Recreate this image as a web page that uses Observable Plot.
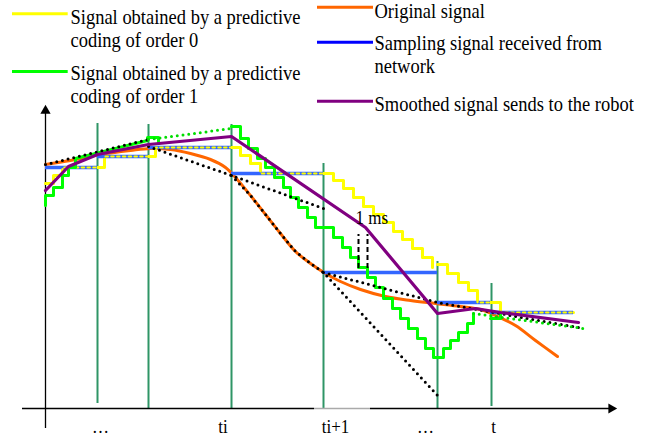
<!DOCTYPE html>
<html><head><meta charset="utf-8">
<script src="https://cdn.jsdelivr.net/npm/d3@7"></script>
<script src="https://cdn.jsdelivr.net/npm/@observablehq/plot@0.6"></script>
<style>html,body{margin:0;padding:0;background:#fff;} #chart svg{display:block;}</style>
</head><body><div id="chart"></div>
<script>
// ---- data (time t, amplitude v) ----
const sampleTimes = [52, 103, 186, 278, 392, 446];
const sampleTop = [285, 284, 284, 245, 147, 125];
const sampleBottom = [5, 0, 0, 0, 0, 2];

const originalT = [0,25,55,85,105,125,145,165,180,190,205,220,235,250,265,280,295,315,340,365,390,415,435,450,470,490,512];
const originalV = [244,248,254,258,260,259,255,249,241,231,213,194,175,157,145,135,127,119,112,108,105,102,99,93,83,68,52];

const sampledFrom = [0, 52, 103, 186, 278, 392, 445];
const sampledTo   = [52, 103, 186, 278, 392, 445, 528];
const sampledV    = [241, 252, 261, 235, 136, 106, 96];

const order0aT = [0,8,17,59,110,195,205,215,288,298,308,318,328,338,348,357,367,377,387];
const order0aV = [225,233,241,252,261,253,245,235,228,220,211,202,194,186,177,169,160,151,141];
const order0bT = [392,402,413,423,432,455,528];
const order0bV = [144,135,126,118,106,96,96];

const order1aT = [0,0,8,8,17,17,23,23,30,30,102,102,113,113];
const order1aV = [203,213,213,221,221,233,233,241,241,250,268,271,271,265];
const order1bT = [186,195,203,212,220,229,238,245,253,262,270,288,297,305,313,322,330,338,347,355,363,372,380,388,398,405,413,422,428];
const order1bV = [282,270,260,250,241,231,221,211,201,191,181,171,161,151,141,131,121,110,100,90,80,70,60,51,60,68,76,85,95];
const order1cT = [445,455,455];
const order1cV = [90,90,95];

const smoothedT = [0,23,52,103,186,320,392,430,455,533];
const smoothedV = [218,242,254,264,272,181,95,100,96,86];

const tangentPiece = [0,0, 1,1,1, 2,2,2,2,2,2,2,2, 3,3,3];
const tangentT = [0,103, 103,186,278, 186,205,220,235,250,265,278,392, 278,392,538];
const tangentV = [244,269, 262,233,200, 233,213,194,175,157,145,136,13, 136,106,80];

const slopePiece = [0,0, 1,1];
const slopeT = [103,186, 428,538];
const slopeV = [269,280, 95,80];

const delayT = [313, 322];
const delayFrom = [140, 140];
const delayTo = [174, 174];
const delayLabel = ["1 ms"];

const tickLabels = ["…", "ti", "ti+1", "…", "t"];
const tickT = [55, 177.5, 290, 380, 448];

const legendLabels = [
  "Signal obtained by a predictive\ncoding of order 0",
  "Signal obtained by a predictive\ncoding of order 1",
  "Original signal",
  "Sampling signal received from\nnetwork",
  "Smoothed signal sends to the robot"
];
const legendColors = ["#ffff00", "#00ff00", "#ff6600", "#0000ff", "#800080"];

// ---- layout (code, not data) ----
const legendLayout = [
  {x1: -33, x2: 22.7, lineV: 394.7, textT: 25, textV: 362},
  {x1: -33, x2: 22.7, lineV: 337, textT: 25, textV: 306},
  {x1: 272, x2: 328, lineV: 401.3, textT: 329, textV: 390.5},
  {x1: 272, x2: 328, lineV: 366.3, textT: 329, textV: 336},
  {x1: 272, x2: 328, lineV: 307.3, textT: 329, textV: 298}
];
const timeAxisPieces = [{a: -23, b: 269, c: "#000"}, {a: 269, b: 325, c: "#aaa"}, {a: 325, b: 567, c: "#000"}];

const rows = (T, V, piece = 0) => T.map((t, i) => ({t, v: V[i], piece}));
const pieces = (P, T, V) => T.map((t, i) => ({t, v: V[i], piece: P[i]}));

const samples = sampleTimes.map((t, i) => ({t, top: sampleTop[i], bottom: sampleBottom[i]}));
const original = rows(originalT, originalV);
const sampled = sampledV.map((v, i) => ({from: sampledFrom[i], to: sampledTo[i], v}));
const order0 = [...rows(order0aT, order0aV, 0), ...rows(order0bT, order0bV, 1)];
const order1a = rows(order1aT, order1aV);
const order1b = rows(order1bT, order1bV);
const order1c = rows(order1cT, order1cV);
const smoothed = rows(smoothedT, smoothedV);
const tangents = pieces(tangentPiece, tangentT, tangentV);
const slopes = pieces(slopePiece, slopeT, slopeV);
const delays = delayT.map((t, i) => ({t, from: delayFrom[i], to: delayTo[i]}));
const ticks = tickLabels.map((label, i) => ({label, t: tickT[i]}));
const legend = legendLabels.map((label, i) => ({label, color: legendColors[i], ...legendLayout[i]}));

const serif = "Liberation Serif, Times New Roman, serif";
const dotted = {strokeWidth: 3, strokeDasharray: "0,5.8", strokeLinecap: "round"};

const plot = Plot.plot({
  width: 653, height: 440,
  marginTop: 0, marginRight: 0, marginBottom: 0, marginLeft: 0,
  x: {domain: [-45, 608], range: [0, 653], axis: null},
  y: {domain: [-32, 408], range: [440, 0], axis: null},
  style: {background: "#fff"},
  marks: [
    Plot.ruleX(samples, {x: "t", y1: "bottom", y2: "top", stroke: "#2f9566", strokeWidth: 2}),
    Plot.ruleY(timeAxisPieces, {y: 0, x1: "a", x2: "b", stroke: "c", strokeWidth: 1.3}),
    Plot.ruleX([0], {x: 0, y1: -20, y2: 298, stroke: "#000", strokeWidth: 1.3}),
    Plot.dot([0], {x: 0, y: 297.8, symbol: "triangle", r: 3.8, fill: "#000", stroke: "none"}),
    Plot.dot([0], {x: 565.8, y: 0, symbol: "triangle", r: 3.8, rotate: 90, fill: "#000", stroke: "none"}),
    Plot.line(original, {x: "t", y: "v", curve: "catmull-rom", stroke: "#ff6600", strokeWidth: 3}),
    Plot.line(order0, {x: "t", y: "v", z: "piece", curve: "step-after", stroke: "#ffff00", strokeWidth: 3}),
    Plot.ruleY(sampled, {y: "v", x1: "from", x2: "to", stroke: "#3366ff", strokeWidth: 3.4}),
    Plot.line(order0, {x: "t", y: "v", z: "piece", curve: "step-after", stroke: "#ffff00", strokeWidth: 2.2, strokeDasharray: "2.4,3.4"}),
    Plot.line(order1a, {x: "t", y: "v", stroke: "#00ff00", strokeWidth: 3}),
    Plot.line(order1b, {x: "t", y: "v", curve: "step-after", stroke: "#00ff00", strokeWidth: 3}),
    Plot.line(order1c, {x: "t", y: "v", stroke: "#00ff00", strokeWidth: 3}),
    Plot.line(tangents, {x: "t", y: "v", z: "piece", stroke: "#000", ...dotted}),
    Plot.line(slopes, {x: "t", y: "v", z: "piece", stroke: "#00dd00", ...dotted}),
    Plot.line(smoothed, {x: "t", y: "v", stroke: "#800080", strokeWidth: 3.2}),
    Plot.ruleX(delays, {x: "t", y1: "from", y2: "to", stroke: "#000", strokeWidth: 2, strokeDasharray: "5,3"}),
    Plot.text(delayLabel, {x: 310, y: 185, text: d => d, textAnchor: "start", lineAnchor: "bottom", fontFamily: serif, fontSize: 17, fill: "#000"}),
    Plot.text(ticks, {x: "t", y: -24, text: "label", textAnchor: "middle", lineAnchor: "bottom", fontFamily: serif, fontSize: 17, fill: "#000"}),
    Plot.ruleY(legend, {y: "lineV", x1: "x1", x2: "x2", stroke: "color", strokeWidth: 3}),
    Plot.text(legend, {x: "textT", y: "textV", text: "label", textAnchor: "start", lineAnchor: "bottom", lineHeight: 1.1, fontFamily: serif, fontSize: 18.5, fill: "#000"})
  ]
});

d3.select(plot).selectAll("text").attr("transform", function () {
  return (this.getAttribute("transform") || "") + " scale(1,1.1)";
});
document.getElementById("chart").appendChild(plot);
</script></body></html>
